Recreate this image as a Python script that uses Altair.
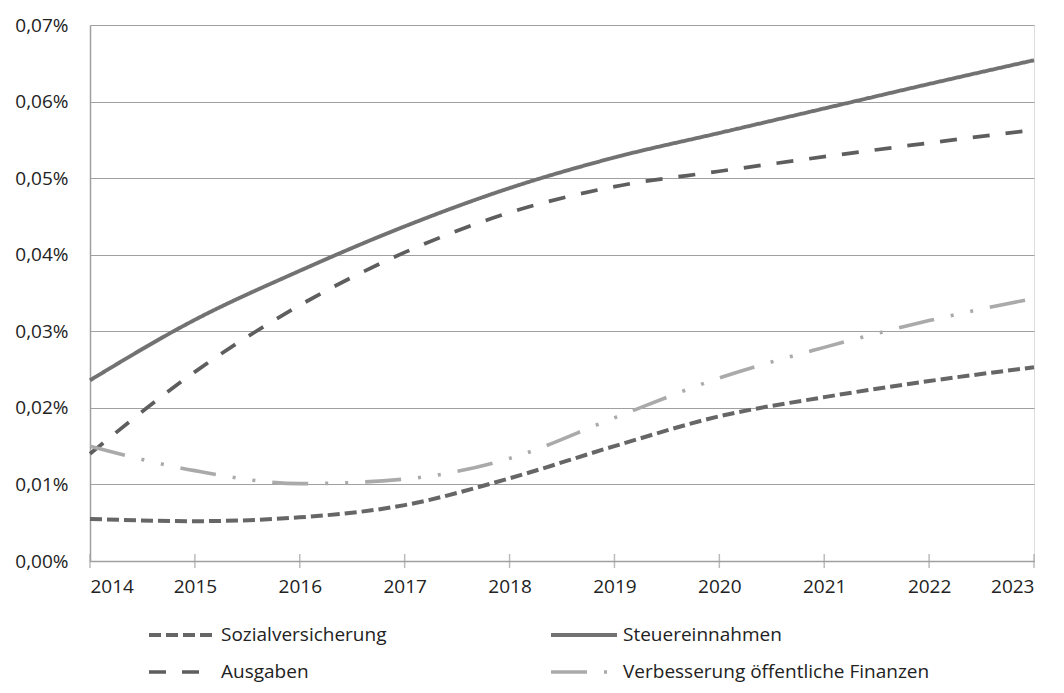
import altair as alt
import pandas as pd

years = [2014, 2015, 2016, 2017, 2018, 2019, 2020, 2021, 2022, 2023]

sozialversicherung = [0.0055, 0.0052, 0.0057, 0.0073, 0.0108, 0.0150, 0.0189, 0.0214, 0.0235, 0.0253]
steuereinnahmen = [0.0236, 0.0315, 0.0379, 0.0437, 0.0487, 0.0527, 0.0559, 0.0591, 0.0623, 0.0654]
ausgaben = [0.0140, 0.0247, 0.0334, 0.0403, 0.0455, 0.0489, 0.0509, 0.0528, 0.0546, 0.0563]
verbesserung = [0.0150, 0.0118, 0.0101, 0.0107, 0.0134, 0.0187, 0.0239, 0.0279, 0.0314, 0.0343]

series_names = ["Sozialversicherung", "Steuereinnahmen", "Ausgaben",
                "Verbesserung öffentliche Finanzen"]
series_values = [sozialversicherung, steuereinnahmen, ausgaben, verbesserung]
y_ticks = [0.0, 0.01, 0.02, 0.03, 0.04, 0.05, 0.06, 0.07]

rows = []
for name, vals in zip(series_names, series_values):
    for y, v in zip(years, vals):
        rows.append({"Jahr": y, "Wert": v, "Reihe": name})
df = pd.DataFrame(rows)
ticks_df = pd.DataFrame({"Jahr": years, "Wert": [0.0] * len(years)})

colors = ["#666666", "#727272", "#5e5e5e", "#aaaaaa"]
dashes = [[12, 5], [1, 0], [17, 16], [36, 17, 3, 17, 3, 17]]
widths = [4, 3.6, 4.2, 4]

FONT = "Open Sans"

lines = alt.Chart(df).mark_line(interpolate="monotone", strokeCap="butt").encode(
    x=alt.X("Jahr:Q",
            scale=alt.Scale(domain=[2014, 2023], nice=False, zero=False),
            axis=alt.Axis(values=years, title=None, grid=False, tickSize=0,
                          format="d", labelPadding=16,
                          domainColor="#a0a0a0", domainWidth=1.5,
                          labelFont=FONT, labelFontSize=19, labelColor="#222222")),
    y=alt.Y("Wert:Q",
            scale=alt.Scale(domain=[0, 0.07], nice=False),
            axis=alt.Axis(values=y_ticks, title=None, grid=True, gridColor="#a0a0a0",
                          gridWidth=1.2, tickSize=0, labelPadding=22,
                          domainColor="#a0a0a0", domainWidth=1.5,
                          labelExpr="replace(format(datum.value, '.2f'), '.', ',') + '%'",
                          labelFont=FONT, labelFontSize=19, labelColor="#222222")),
    color=alt.Color("Reihe:N", sort=series_names,
                    scale=alt.Scale(domain=series_names, range=colors),
                    legend=alt.Legend(title=None, orient="none", legendX=57, legendY=597,
                                      columns=2, direction="horizontal",
                                      symbolType="M-1,0H5", symbolSize=484,
                                      symbolStrokeWidth=4, labelOffset=48,
                                      columnPadding=156, rowPadding=14,
                                      labelFont=FONT, labelFontSize=19,
                                      labelColor="#222222", labelLimit=400)),
    strokeDash=alt.StrokeDash("Reihe:N", sort=series_names,
                              scale=alt.Scale(domain=series_names, range=dashes),
                              legend=None),
    strokeWidth=alt.StrokeWidth("Reihe:N", sort=series_names,
                                scale=alt.Scale(domain=series_names, range=widths),
                                legend=None),
)

tick_marks = alt.Chart(ticks_df).mark_tick(color="#a0a0a0", thickness=1.5, size=14).encode(
    x="Jahr:Q",
    y="Wert:Q",
)

chart = alt.layer(tick_marks, lines).properties(
    width=944, height=536,
    autosize=alt.AutoSizeParams(type="none"),
    padding={"left": 82, "top": 17, "right": 22, "bottom": 124},
).configure_view(stroke=None).configure(background="white")

chart.save("out.html", embed_options={"renderer": "svg", "actions": False})
